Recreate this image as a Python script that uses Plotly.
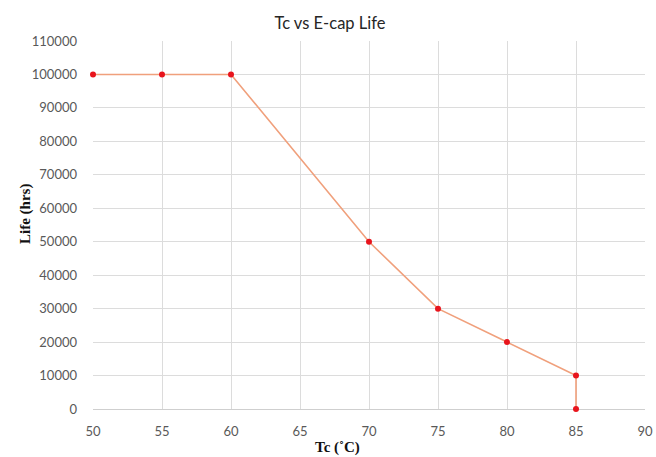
import plotly.graph_objects as go

tc = [50, 55, 60, 70, 75, 80, 85, 85]
life = [100000, 100000, 100000, 50000, 30000, 20000, 10000, 0]
x_ticks = [50, 55, 60, 65, 70, 75, 80, 85, 90]
y_ticks = list(range(0, 110001, 10000))

fig = go.Figure()
fig.add_trace(go.Scatter(
    x=tc, y=life, mode="lines+markers",
    line=dict(color="#f0a07c", width=1.6),
    marker=dict(color="#e8141c", size=6),
    cliponaxis=False,
    showlegend=False,
))

tick_font = dict(family="Lato, Open Sans, sans-serif", size=13, color="#595959")
serif_bold = dict(family="Liberation Serif, serif", size=15, color="#111111")
fig.update_layout(
    width=656, height=457,
    margin=dict(l=93, r=11, t=41, b=48, autoexpand=False),
    paper_bgcolor="white", plot_bgcolor="white",
    title=dict(text="Tc vs E-cap Life", x=0.503, xanchor="center", y=0.949, yanchor="middle",
               font=dict(family="Lato, Open Sans, sans-serif", size=16.5, color="#262626")),
    annotations=[
        dict(text="<b>Tc (˚C)</b>", xref="paper", yref="paper", x=0.4438, y=-0.1033,
             xanchor="center", yanchor="middle", showarrow=False, font=serif_bold),
        dict(text="<b>Life (hrs)</b>", xref="paper", yref="paper", x=-0.1214, y=0.5299,
             xanchor="center", yanchor="middle", showarrow=False, textangle=-90, font=serif_bold),
    ],
)
fig.update_xaxes(
    range=[50, 90], tickvals=x_ticks, showgrid=True, gridcolor="#dcdcdc", gridwidth=1,
    zeroline=False, showline=True, linecolor="#cfcfcf", linewidth=1.2,
    tickfont=tick_font, ticks="", ticklabelstandoff=10, automargin=False,
    layer="below traces",
)
fig.update_yaxes(
    range=[0, 110000], tickvals=y_ticks, showgrid=True, gridcolor="#dcdcdc", gridwidth=1,
    zeroline=False, showline=False, tickfont=tick_font, ticks="", ticklabelstandoff=15,
    tickformat="d", automargin=False, layer="below traces",
)
fig.write_html("out.html", config={"displayModeBar": False},
               post_script="document.body.style.margin='0';document.body.style.overflow='hidden';")
